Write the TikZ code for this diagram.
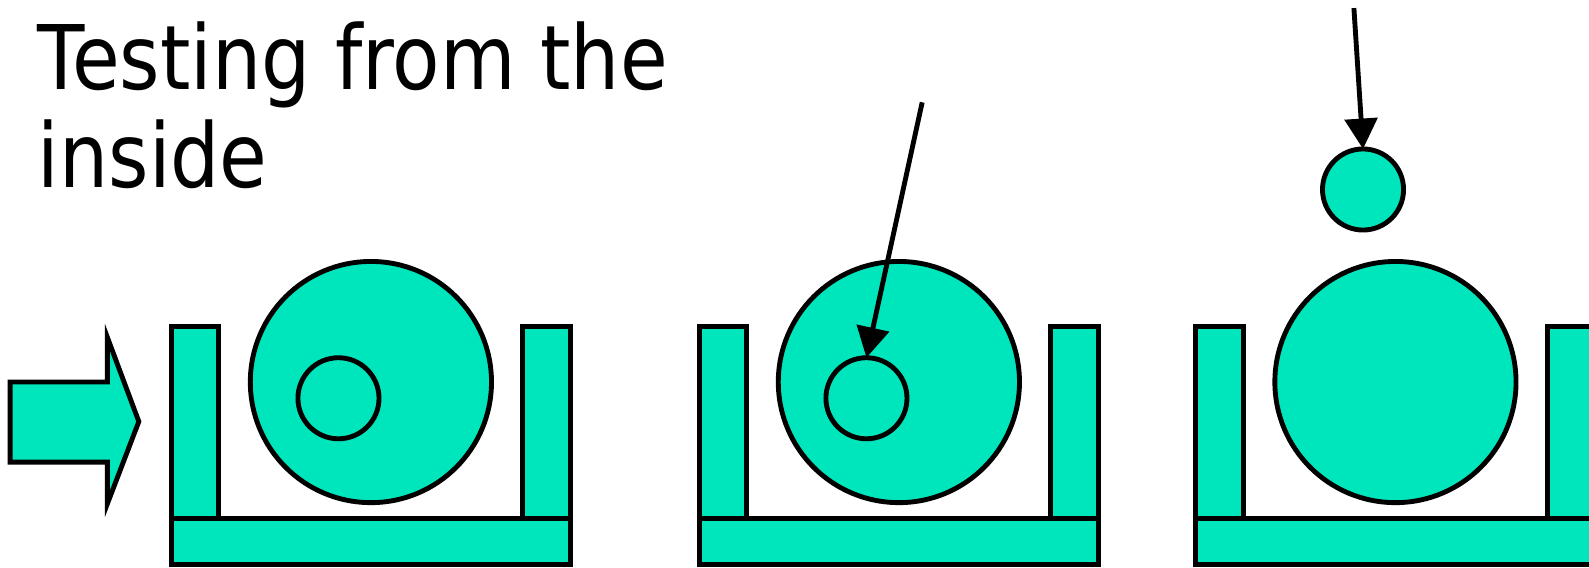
\documentclass[tikz,border=0pt]{standalone}
\usepackage{fontspec}
\setmainfont{DejaVu Sans}[FakeStretch=0.87]
\usetikzlibrary{arrows.meta}
\definecolor{tq}{RGB}{0,230,188}
\begin{document}
\begin{tikzpicture}[x=0.5pt,y=-0.5pt,
  part/.style={draw=black, line width=2.4pt, fill=tq, inner sep=0pt, outer sep=0pt},
  post/.style={part, rectangle, minimum width=23.5pt, minimum height=95pt},
  basebar/.style={part, rectangle, minimum width=197pt, minimum height=22.5pt},
  bigc/.style={part, circle, minimum size=119pt},
  smallc/.style={part, circle, minimum size=40pt},
  conn/.style={draw=black, line width=2.4pt, -{Triangle[length=15pt,width=16pt]}},
  title/.style={anchor=base west, inner sep=0pt, font=\fontsize{44}{48}\selectfont}]
\useasboundingbox (0,0) rectangle (1568,560);
\clip (0,0) rectangle (1568,560);

\node[title] (t1) at (37,88) {Testing from the};
\node[title] (t2) at (37,185) {inside};

% block arrow
\draw[line width=2.4pt, fill=tq, line join=miter] (10,377) -- (106,377) -- (106,333) -- (137,416) -- (106,497) -- (106,456) -- (10,456) -- cycle;

% group 1
\node[post] (l1) at (192.5,417) {};
\node[post] (r1) at (539.5,417) {};
\node[basebar] (b1) at (366,534.5) {};
\node[bigc] (c1) at (366,377) {};
\node[smallc] (s1) at (334,393) {};

% group 2
\node[post] (l2) at (713.5,417) {};
\node[post] (r2) at (1060.5,417) {};
\node[basebar] (b2) at (887,534.5) {};
\node[bigc] (c2) at (887,377) {};
\node[smallc] (s2) at (855,393) {};
\coordinate (a2) at (910,101);
\draw[conn] (a2) -- (s2.north);

% group 3
\node[post] (l3) at (1203.5,417) {};
\node[post] (r3) at (1550.5,417) {};
\node[basebar] (b3) at (1377,534.5) {};
\node[bigc] (c3) at (1377,377) {};
\node[smallc] (s3) at (1345,187) {};
\coordinate (a3) at (1336,8);
\draw[conn] (a3) -- (s3.north);
\end{tikzpicture}
\end{document}
